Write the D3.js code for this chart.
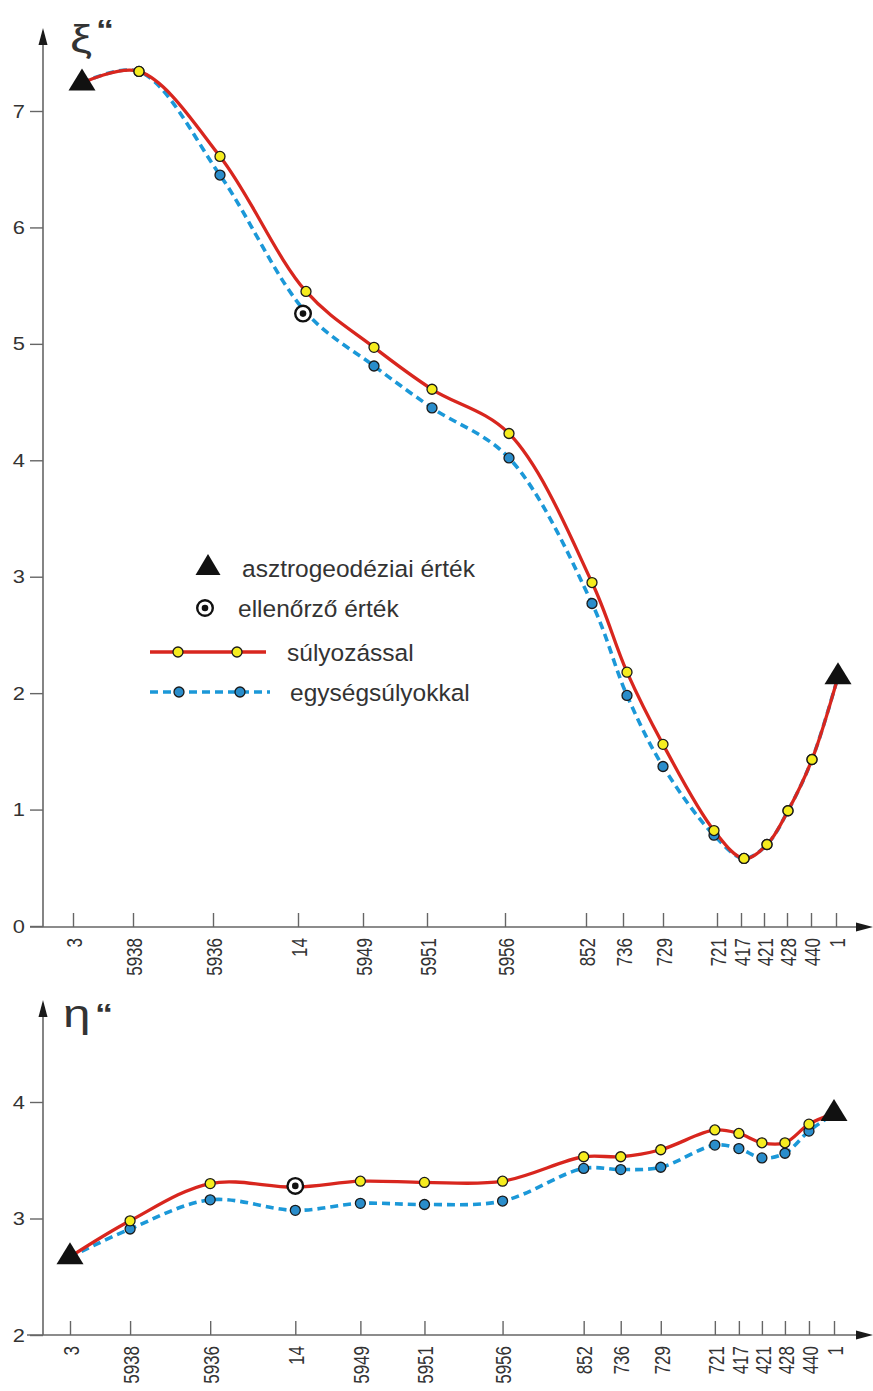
<!DOCTYPE html>
<html>
<head>
<meta charset="utf-8">
<script src="https://cdn.jsdelivr.net/npm/d3@7"></script>
<style>
  html, body { margin: 0; padding: 0; background: #fff; }
  svg { display: block; }
  text { font-family: "Liberation Sans", Arial, sans-serif; fill: #333; }
</style>
</head>
<body>
<svg id="chart" width="873" height="1391"></svg>
<script>
// ---- data ----
const stations = ["3","5938","5936","14","5949","5951","5956","852","736","729","721","417","421","428","440","1"];
// distance of each station along the profile (arbitrary units, axis ticks)
const dist = [0, 60, 140, 225, 290, 354, 432, 513, 550, 590, 644, 668, 691, 714, 738, 763];
// where the upper panel's points are actually plotted (same units)
const xiPos = [9, 66, 147, 233, 301, 359, 436, 519, 554, 590, 641, 671, 694, 715, 739, 765];

// ξ" (upper chart)
const xiWeighted = [7.24, 7.34, 6.61, 5.45, 4.97, 4.61, 4.23, 2.95, 2.18, 1.56, 0.82, 0.58, 0.70, 0.99, 1.43, 2.14];
const xiUnit     = [7.24, 7.34, 6.45, 5.27, 4.81, 4.45, 4.02, 2.77, 1.98, 1.37, 0.78, 0.58, 0.70, 0.99, 1.43, 2.14];
const xiAstro = [{i: 0, v: 7.24}, {i: 15, v: 2.14}];
const xiCheck = [{d: 230, v: 5.26}];
const xiTicks = [0, 1, 2, 3, 4, 5, 6, 7];

// η" (lower chart)
const etaWeighted = [2.67, 2.98, 3.30, 3.27, 3.32, 3.31, 3.32, 3.53, 3.53, 3.59, 3.76, 3.73, 3.65, 3.65, 3.81, 3.90];
const etaUnit     = [2.67, 2.91, 3.16, 3.07, 3.13, 3.12, 3.15, 3.43, 3.42, 3.44, 3.63, 3.60, 3.52, 3.56, 3.75, 3.90];
const etaAstro = [{i: 0, v: 2.67}, {i: 15, v: 3.90}];
const etaCheck = [{d: 225, v: 3.28}];
const etaTicks = [2, 3, 4];

const legendLabels = ["asztrogeodéziai érték", "ellenőrző érték", "súlyozással", "egységsúlyokkal"];

// ---- style ----
const RED = "#d8261e", BLUE_LINE = "#1b98d8", BLUE_FILL = "#2a8dcb", YELLOW = "#f5ec1f", AXIS = "#666";
const MR = 5;

const svg = d3.select("#chart");

function triPath(cx, cy, w, h) {
  return `M${cx - w/2},${cy + h/3}L${cx + w/2},${cy + h/3}L${cx},${cy - 2*h/3}Z`;
}

function drawPanel(cfg) {
  const g = svg.append("g");
  const x = d3.scaleLinear().domain([0, 763]).range(cfg.xRange);
  const y = d3.scaleLinear().domain(cfg.yDomain).range(cfg.yRange);
  const axY = cfg.axisY, axX = 43;

  // y axis line + arrow
  g.append("line").attr("x1", axX).attr("x2", axX).attr("y1", cfg.yTop + 10).attr("y2", axY)
    .attr("stroke", AXIS).attr("stroke-width", 1.6);
  g.append("path").attr("d", `M${axX},${cfg.yTop}L${axX - 4.5},${cfg.yTop + 17}L${axX + 4.5},${cfg.yTop + 17}Z`).attr("fill", "#1a1a1a");
  // x axis line + arrow
  g.append("line").attr("x1", cfg.xStart).attr("x2", 862).attr("y1", axY).attr("y2", axY)
    .attr("stroke", AXIS).attr("stroke-width", 1.6);
  g.append("path").attr("d", `M873,${axY}L856,${axY - 4.5}L856,${axY + 4.5}Z`).attr("fill", "#1a1a1a");

  // y ticks
  const ya = g.append("g").attr("transform", `translate(${axX},0)`)
    .call(d3.axisLeft(y).tickValues(cfg.yTicks).tickSize(13).tickPadding(4).tickFormat(d3.format("d")));
  ya.select(".domain").remove();
  ya.selectAll("line").attr("stroke", AXIS).attr("stroke-width", 1.4);
  ya.selectAll("text").attr("x", 0).attr("transform", "translate(-18,0) scale(1.15,1)")
    .attr("font-size", 19).attr("fill", "#333").attr("font-family", "Liberation Sans, Arial, sans-serif");

  // x ticks (pointing up) with rotated labels
  const xa = g.append("g").attr("transform", `translate(0,${axY})`)
    .call(d3.axisBottom(x).tickValues(dist).tickSize(-14).tickFormat((d, i) => stations[i]));
  xa.select(".domain").remove();
  xa.selectAll("line").attr("stroke", AXIS).attr("stroke-width", 1.4);
  xa.selectAll("text")
    .attr("transform", "rotate(-90) scale(1,1.35)")
    .attr("x", -11).attr("y", 0).attr("dy", "0.36em")
    .attr("text-anchor", "end")
    .attr("font-size", 17).attr("fill", "#333")
    .attr("font-family", "Liberation Sans, Arial, sans-serif");

  // axis title
  g.append("text").attr("transform", `translate(${cfg.titleX},${cfg.titleY}) scale(1.3,1)`)
    .attr("font-family", cfg.titleFont).attr("font-size", cfg.titleSize).attr("fill", "#222").text(cfg.title);
  g.append("text").attr("transform", `translate(${cfg.quoteX},${cfg.quoteY}) scale(1.2,1)`)
    .attr("font-family", "Liberation Sans, Arial, sans-serif").attr("font-weight", "bold")
    .attr("font-size", 30).attr("fill", "#222").text("“");

  const px = cfg.pos;
  const line = d3.line().x((d, i) => x(px[i])).y(d => y(d)).curve(d3.curveCatmullRom.alpha(0.5));

  g.append("path").datum(cfg.unit).attr("d", line).attr("fill", "none")
    .attr("stroke", BLUE_LINE).attr("stroke-width", 3.6).attr("stroke-dasharray", "8,5");
  g.append("path").datum(cfg.weighted).attr("d", line).attr("fill", "none")
    .attr("stroke", RED).attr("stroke-width", 3.3);

  const inner = d3.range(1, stations.length - 1);
  g.selectAll(".bm").data(inner).enter().append("circle")
    .attr("cx", i => x(px[i])).attr("cy", i => y(cfg.unit[i])).attr("r", MR)
    .attr("fill", BLUE_FILL).attr("stroke", "#1a1a1a").attr("stroke-width", 1.3);
  g.selectAll(".ym").data(inner).enter().append("circle")
    .attr("cx", i => x(px[i])).attr("cy", i => y(cfg.weighted[i])).attr("r", MR)
    .attr("fill", YELLOW).attr("stroke", "#1a1a1a").attr("stroke-width", 1.3);

  // control (check) values
  cfg.check.forEach(c => {
    g.append("circle").attr("cx", x(c.d)).attr("cy", y(c.v)).attr("r", 7.8)
      .attr("fill", "#fff").attr("stroke", "#111").attr("stroke-width", 2.4);
    g.append("circle").attr("cx", x(c.d)).attr("cy", y(c.v)).attr("r", 3.3).attr("fill", "#111");
  });
  // astrogeodetic values
  cfg.astro.forEach(a => {
    g.append("path").attr("d", triPath(x(px[a.i]), y(a.v), 27, 22)).attr("fill", "#111");
  });
}

drawPanel({
  xRange: [73, 836], yDomain: [0, 7], yRange: [926, 111], axisY: 927, yTop: 28, xStart: 30,
  yTicks: xiTicks, title: "ξ", titleX: 70, titleY: 52, titleFont: "DejaVu Sans, sans-serif", titleSize: 38,
  quoteX: 96, quoteY: 40,
  pos: xiPos, weighted: xiWeighted, unit: xiUnit, astro: xiAstro, check: xiCheck
});
drawPanel({
  xRange: [70, 834], yDomain: [2, 4], yRange: [1335, 1102], axisY: 1335, yTop: 1000, xStart: 27,
  yTicks: etaTicks, title: "η", titleX: 63, titleY: 1027, titleFont: "DejaVu Sans, sans-serif", titleSize: 38,
  quoteX: 95, quoteY: 1024,
  pos: dist, weighted: etaWeighted, unit: etaUnit, astro: etaAstro, check: etaCheck
});

// ---- legend ----
const lg = svg.append("g");
lg.append("path").attr("d", triPath(208, 568, 25, 21)).attr("fill", "#111");
lg.append("circle").attr("cx", 205).attr("cy", 608).attr("r", 7.8).attr("fill", "#fff").attr("stroke", "#111").attr("stroke-width", 2.4);
lg.append("circle").attr("cx", 205).attr("cy", 608).attr("r", 3.3).attr("fill", "#111");
lg.append("line").attr("x1", 150).attr("x2", 266).attr("y1", 652).attr("y2", 652).attr("stroke", RED).attr("stroke-width", 3.3);
[178, 237].forEach(cx => lg.append("circle").attr("cx", cx).attr("cy", 652).attr("r", MR)
  .attr("fill", YELLOW).attr("stroke", "#1a1a1a").attr("stroke-width", 1.3));
lg.append("line").attr("x1", 150).attr("x2", 270).attr("y1", 692).attr("y2", 692).attr("stroke", BLUE_LINE)
  .attr("stroke-width", 3.6).attr("stroke-dasharray", "8,5");
[179, 240].forEach(cx => lg.append("circle").attr("cx", cx).attr("cy", 692).attr("r", MR)
  .attr("fill", BLUE_FILL).attr("stroke", "#1a1a1a").attr("stroke-width", 1.3));
const lx = [242, 238, 287, 290], ly = [568, 608, 652, 692];
legendLabels.forEach((s, i) => lg.append("text").attr("x", lx[i]).attr("y", ly[i]).attr("dy", "0.35em")
  .attr("font-size", 24.5).attr("fill", "#333").text(s));
</script>
</body>
</html>
